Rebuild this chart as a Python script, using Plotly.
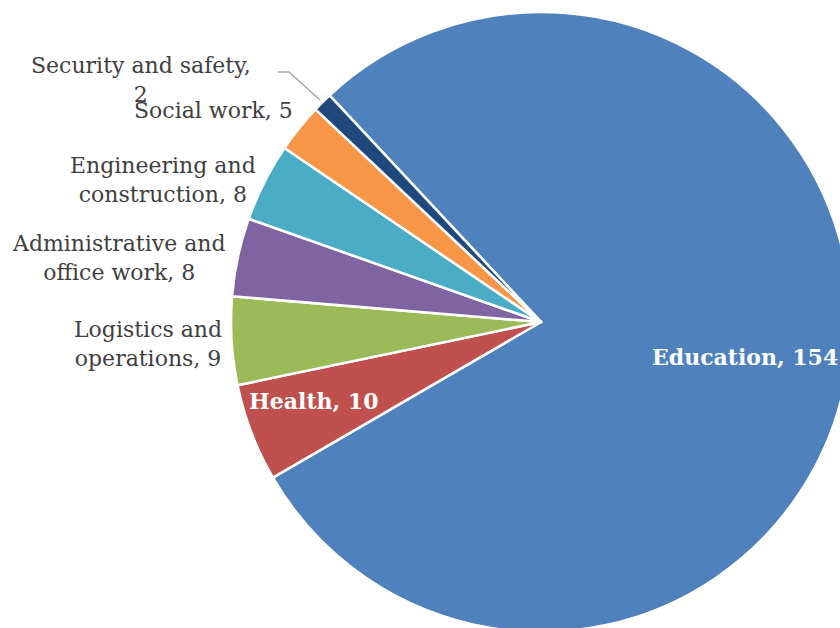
import plotly.graph_objects as go

labels = ["Education", "Health", "Logistics and operations", "Administrative and office work",
          "Engineering and construction", "Social work", "Security and safety"]
values = [154, 10, 9, 8, 8, 5, 2]
colors = ["#4F81BD", "#C0504D", "#9BBB59", "#8064A2", "#4BACC6", "#F79646", "#1F497D"]

# label display text (line breaks as in the reference)
label_text = ["Education", "Health", "Logistics and<br>operations", "Administrative and<br>office work",
              "Engineering and<br>construction", "Social work", "Security and safety,<br>"]

W, H = 860, 640
FONT = "DejaVu Serif"

fig = go.Figure(go.Pie(
    labels=labels, values=values, sort=False, direction="clockwise", rotation=-43,
    marker=dict(colors=colors, line=dict(color="white", width=2.5)),
    textinfo="none", hoverinfo="label+value", showlegend=False,
    domain=dict(x=[231 / W, 851 / W], y=[8 / H, 1 - 12 / H]),
))

def px(x, y):
    return x / W, 1 - y / H

# label anchor positions (pixels), centre of each text block
label_pos = {
    "Education": (745, 357),
    "Health": (314, 401),
    "Logistics and operations": (148, 344),
    "Administrative and office work": (119, 258),
    "Engineering and construction": (163, 180),
    "Social work": (213, 110),
    "Security and safety": (141, 80),
}
inside = {"Education", "Health"}
for lab, txt, v in zip(labels, label_text, values):
    x, y = px(*label_pos[lab])
    if lab in inside:
        t = f"<b>{txt}, {v}</b>"
        col = "white"
    elif txt.endswith("<br>"):
        t = f"{txt}{v}"
        col = "#404040"
    else:
        t = f"{txt}, {v}"
        col = "#404040"
    fig.add_annotation(x=x, y=y, xref="paper", yref="paper", text=t, showarrow=False,
                       xanchor="center", yanchor="middle", align="center",
                       font=dict(family=FONT, size=22, color=col))

# leader line for the smallest slice
x0, y0 = px(278, 72)
x1, y1 = px(289, 72)
x2, y2 = px(320, 100)
fig.add_shape(type="path", xref="paper", yref="paper",
              path=f"M {x0} {y0} L {x1} {y1} L {x2} {y2}",
              line=dict(color="#A6A6A6", width=1.5))

fig.update_layout(width=W, height=H, margin=dict(l=0, r=0, t=0, b=0),
                  paper_bgcolor="white", plot_bgcolor="white")

fig.write_html("out.html", config={"displayModeBar": False},
               post_script="document.body.style.margin='0';document.body.style.overflow='hidden';document.documentElement.style.overflow='hidden';")
